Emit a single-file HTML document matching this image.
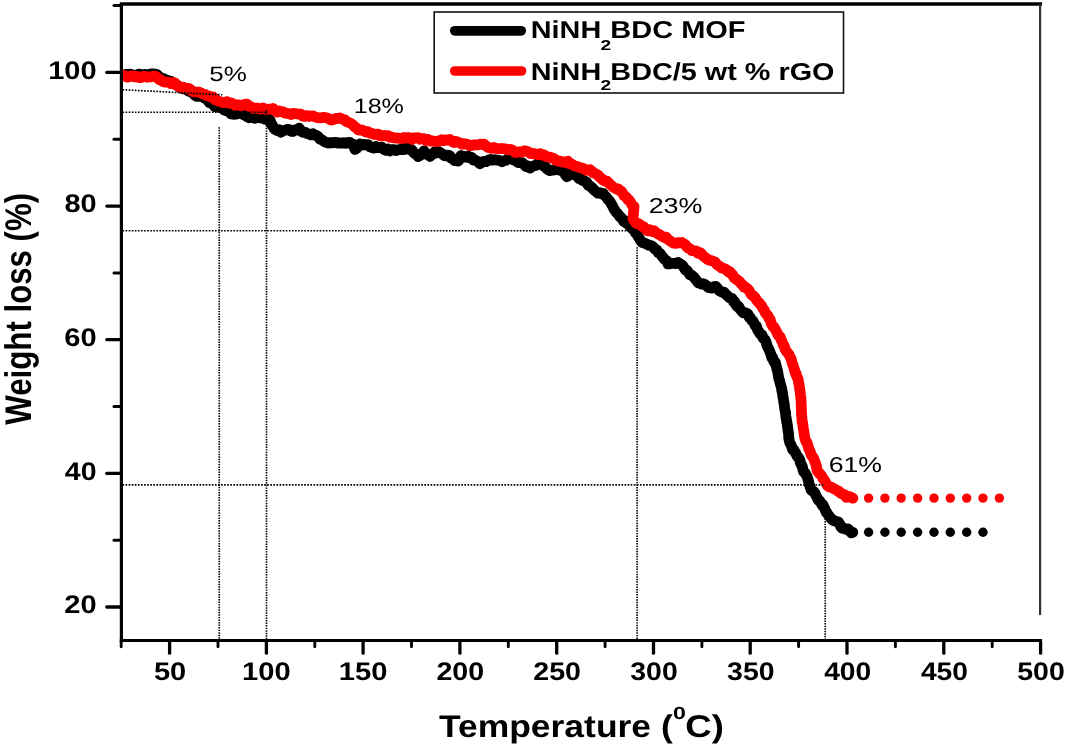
<!DOCTYPE html><html><head><meta charset="utf-8"><style>html,body{margin:0;padding:0;background:#fff}svg{display:block;will-change:transform}text{text-rendering:geometricPrecision}</style></head><body><svg width="1065" height="749" viewBox="0 0 1065 749">
<rect width="1065" height="749" fill="#fff"/>
<defs><clipPath id="cp"><rect x="121.4" y="4" width="920" height="636"/></clipPath></defs>
<g clip-path="url(#cp)" fill="none" stroke="#000" stroke-width="10.8" stroke-linejoin="round" stroke-linecap="round"><path id="kb" d="M122.0 75.5 L123.9 75.3 L125.7 74.4 L127.6 74.7 L129.4 74.1 L131.3 74.3 L133.1 76.1 L135.0 75.7 L137.0 74.8 L139.0 74.1 L141.0 74.6 L143.0 74.9 L145.0 74.3 L147.0 75.0 L149.0 74.6 L151.0 73.9 L153.0 73.8 L155.0 74.2 L157.0 74.5 L159.0 76.6 L161.0 78.3 L163.0 78.3 L165.0 79.5 L166.8 80.2 L168.5 80.8 L170.2 81.0 L172.0 82.3 L173.8 83.8 L175.5 84.5 L177.2 85.2 L179.0 86.9 L181.0 88.2 L183.0 88.8 L185.0 88.6 L187.0 90.0 L189.0 91.4 L191.0 90.8 L193.0 93.4 L195.0 95.3 L197.0 96.3 L199.0 96.4 L201.0 95.9 L202.7 95.6 L204.4 98.2 L206.1 98.5 L207.9 100.7 L209.6 102.7 L211.3 103.0 L213.0 104.6 L215.0 106.7 L217.0 107.1 L219.0 106.7 L220.7 107.2 L222.4 107.8 L224.1 110.0 L225.9 110.5 L227.6 109.8 L229.3 112.0 L231.0 113.9 L233.0 114.1 L235.0 114.3 L237.0 113.9 L239.0 112.3 L241.0 111.2 L243.0 114.5 L245.0 115.3 L247.0 116.7 L249.0 117.7 L251.0 116.7 L253.0 117.8 L255.0 118.3 L257.0 117.2 L259.0 117.5 L261.0 118.0 L263.0 118.2 L265.0 119.4 L267.0 118.7 L269.0 119.0 L270.2 120.4 L271.4 124.4 L272.6 125.5 L273.8 128.1 L275.0 129.5 L277.0 130.5 L279.0 129.8 L281.0 132.3 L283.0 130.8 L285.0 130.3 L287.0 129.4 L289.0 129.3 L291.0 131.3 L293.0 131.5 L295.0 129.8 L297.0 130.2 L299.0 128.1 L300.6 130.1 L302.2 132.0 L303.8 132.4 L305.4 132.5 L307.0 133.6 L309.0 134.1 L311.0 134.9 L313.0 133.8 L315.0 135.3 L316.7 135.6 L318.3 136.7 L320.0 139.2 L322.0 139.9 L324.0 141.3 L326.0 142.3 L328.0 143.1 L330.0 142.6 L332.0 142.9 L334.0 142.5 L336.0 142.4 L338.0 143.1 L340.0 142.9 L342.0 143.1 L344.0 142.7 L346.0 143.4 L348.0 142.5 L350.0 142.5 L351.2 144.0 L352.5 143.8 L353.8 146.5 L355.0 149.4 L356.7 148.4 L358.3 145.4 L360.0 143.9 L362.0 145.1 L364.0 144.4 L366.0 144.9 L368.0 144.6 L370.0 146.9 L372.0 147.5 L374.0 148.1 L376.0 146.4 L378.0 147.6 L380.0 147.4 L382.0 147.1 L384.0 149.5 L386.0 150.4 L388.0 149.0 L390.0 150.9 L392.0 149.7 L394.0 149.6 L396.0 150.5 L398.0 149.9 L400.0 149.3 L402.0 149.6 L404.0 149.6 L406.0 147.3 L407.5 147.2 L409.0 147.6 L410.5 150.0 L412.0 149.9 L413.5 152.5 L415.0 153.7 L416.5 154.3 L418.0 156.5 L420.0 155.4 L422.0 153.6 L424.0 150.9 L426.0 154.1 L428.0 154.7 L430.0 156.3 L432.0 154.6 L433.5 153.5 L435.0 151.5 L436.5 152.8 L438.0 151.4 L440.0 152.3 L442.0 153.7 L444.0 155.4 L446.0 155.9 L448.0 155.1 L449.7 155.7 L451.3 158.3 L453.0 159.0 L454.7 160.7 L456.3 160.7 L458.0 161.1 L459.0 160.3 L460.0 157.5 L461.0 155.5 L462.0 156.2 L464.0 156.4 L466.0 157.2 L468.0 156.0 L470.0 158.1 L471.7 157.3 L473.3 160.1 L475.0 160.2 L476.7 160.8 L478.3 162.1 L480.0 163.8 L482.0 162.0 L484.0 161.3 L486.0 161.7 L488.0 160.4 L490.0 159.5 L492.0 160.1 L494.0 159.7 L496.0 160.0 L498.0 160.1 L500.0 160.7 L502.0 161.7 L504.0 160.7 L506.0 160.3 L508.0 158.7 L510.0 158.3 L512.0 158.6 L514.0 160.2 L516.0 160.8 L518.0 162.7 L520.0 162.6 L522.0 162.6 L524.0 164.4 L526.0 166.6 L528.0 165.9 L530.0 168.1 L532.0 166.5 L534.0 165.8 L536.0 165.4 L538.0 163.2 L540.0 162.3 L541.6 164.0 L543.2 166.0 L544.8 165.9 L546.4 168.5 L548.0 169.7 L549.8 170.6 L551.5 170.1 L553.2 170.1 L555.0 169.5 L556.7 169.5 L558.3 169.1 L560.0 170.4 L561.4 170.4 L562.8 171.3 L564.2 172.2 L565.6 175.2 L567.0 176.6 L568.8 175.6 L570.5 174.2 L572.2 173.6 L574.0 173.1 L575.7 175.3 L577.3 176.3 L579.0 178.7 L580.7 178.7 L582.3 180.5 L584.0 180.9 L585.3 181.4 L586.7 182.2 L588.0 185.2 L589.3 185.3 L590.7 186.8 L592.0 187.6 L594.0 189.9 L596.0 191.6 L598.0 193.2 L600.0 192.7 L601.6 193.9 L603.2 193.4 L604.8 195.7 L606.4 197.1 L608.0 199.6 L609.2 200.5 L610.4 202.2 L611.6 204.5 L612.8 206.3 L614.0 209.1 L615.2 210.7 L616.4 212.5 L617.6 213.6 L618.8 215.1 L620.0 216.9 L621.2 217.5 L622.4 219.0 L623.6 221.4 L624.8 220.5 L626.0 222.8 L627.5 224.0 L629.0 224.1 L630.5 227.2 L632.0 228.5 L633.2 229.3 L634.4 230.9 L635.6 233.0 L636.8 233.5 L638.0 236.3 L639.2 237.9 L640.4 240.3 L641.6 241.9 L642.8 242.7 L644.0 242.9 L645.6 243.7 L647.2 244.3 L648.8 245.4 L650.4 245.4 L652.0 246.0 L653.6 247.5 L655.2 249.2 L656.8 249.9 L658.4 252.7 L660.0 253.3 L661.3 255.2 L662.7 257.0 L664.0 258.8 L665.3 260.0 L666.7 260.6 L668.0 263.9 L670.0 263.8 L672.0 263.3 L674.0 263.3 L676.0 263.6 L678.0 262.4 L680.0 263.9 L681.4 264.6 L682.9 265.9 L684.3 268.1 L685.7 270.3 L687.1 270.4 L688.6 272.8 L690.0 274.8 L691.7 275.3 L693.3 276.6 L695.0 278.6 L696.7 280.8 L698.3 282.7 L700.0 283.4 L701.7 284.2 L703.3 283.7 L705.0 284.6 L706.7 285.7 L708.3 287.6 L710.0 287.7 L712.0 288.1 L714.0 286.6 L716.0 286.5 L717.6 288.4 L719.2 290.7 L720.8 291.5 L722.4 292.2 L724.0 292.1 L726.0 294.5 L728.0 296.3 L730.0 298.2 L732.0 298.3 L733.3 301.6 L734.7 301.6 L736.0 305.0 L737.3 306.7 L738.7 306.5 L740.0 309.0 L741.6 311.1 L743.2 312.8 L744.8 312.6 L746.4 313.2 L748.0 314.0 L749.2 317.4 L750.4 317.6 L751.6 320.3 L752.8 320.8 L754.0 323.1 L755.2 325.5 L756.4 326.1 L757.6 330.0 L758.8 331.6 L760.0 333.7 L761.0 334.5 L762.0 334.7 L763.0 338.0 L764.0 338.9 L765.0 339.7 L766.0 341.7 L766.8 344.9 L767.7 347.0 L768.5 348.6 L769.3 350.2 L770.2 352.6 L771.0 354.7 L771.8 357.7 L772.7 357.7 L773.5 360.7 L774.3 362.3 L775.2 362.1 L776.0 365.5 L776.5 366.9 L777.0 369.3 L777.4 370.1 L777.8 372.4 L778.2 374.6 L778.6 377.9 L779.0 379.0 L779.5 380.4 L780.0 382.8 L780.6 384.8 L781.1 386.6 L781.6 388.3 L782.0 391.6 L782.4 392.0 L782.8 396.3 L783.2 397.7 L783.6 400.7 L783.9 402.9 L784.2 404.0 L784.4 406.1 L784.7 408.9 L785.0 410.2 L785.3 411.6 L785.6 413.3 L785.8 416.0 L786.1 418.2 L786.4 419.4 L786.7 421.9 L787.0 422.5 L787.4 426.0 L787.7 427.4 L788.0 430.1 L788.2 431.6 L788.4 432.6 L788.6 433.8 L788.8 438.5 L789.0 439.5 L789.8 442.7 L790.7 444.3 L791.5 446.0 L792.3 448.8 L793.2 450.4 L794.0 449.9 L794.8 451.9 L795.7 452.8 L796.5 455.1 L797.3 456.4 L798.2 457.1 L799.0 458.4 L799.8 460.0 L800.6 463.6 L801.4 464.7 L802.2 466.1 L803.0 469.9 L803.8 472.0 L804.7 472.7 L805.5 473.6 L806.3 475.3 L807.2 476.7 L808.0 479.5 L808.6 481.6 L809.2 484.5 L809.8 485.8 L810.4 487.8 L811.0 489.8 L812.2 490.8 L813.5 491.4 L814.8 492.8 L816.0 495.5 L817.2 497.8 L818.4 500.3 L819.6 500.8 L820.8 502.5 L822.0 505.1 L823.0 504.9 L824.0 507.3 L825.0 509.2 L826.0 512.1 L827.0 512.7 L828.0 514.8 L829.0 515.8 L830.0 517.2 L831.0 518.4 L833.0 520.4 L835.0 521.0 L837.0 521.9 L838.2 521.8 L839.5 523.5 L840.8 526.7 L842.0 528.3 L844.0 528.2 L846.0 529.4 L848.0 528.9 L849.6 530.7 L851.2 532.8 L852.8 532.3"/></g>
<g clip-path="url(#cp)" fill="none" stroke="#ff0000" stroke-width="10.8" stroke-linejoin="round" stroke-linecap="round"><path id="kr" d="M122.0 76.0 L123.9 75.5 L125.7 76.4 L127.6 77.2 L129.4 76.5 L131.3 76.1 L133.1 75.9 L135.0 76.9 L137.0 76.4 L139.0 77.6 L141.0 77.6 L143.0 76.4 L145.0 76.5 L147.0 77.3 L149.0 76.8 L151.0 76.9 L153.0 76.3 L155.0 76.1 L157.0 77.2 L159.0 79.5 L161.0 80.0 L163.0 81.6 L165.0 82.2 L167.0 82.2 L169.0 82.3 L171.0 83.6 L173.0 82.7 L175.0 82.9 L177.0 85.7 L179.0 86.7 L181.0 87.9 L183.0 87.1 L185.0 88.1 L187.0 88.5 L189.0 88.3 L191.0 90.3 L193.0 91.5 L195.0 91.8 L197.0 92.0 L199.0 92.2 L201.0 93.2 L203.0 93.9 L205.0 94.5 L207.0 95.9 L209.0 95.8 L211.0 97.2 L213.0 97.0 L215.0 99.7 L217.0 100.2 L219.0 101.3 L221.0 101.9 L223.0 102.6 L225.0 102.3 L227.0 101.6 L229.0 103.2 L231.0 102.9 L233.0 103.9 L235.0 105.2 L237.0 105.0 L239.0 104.9 L241.0 105.9 L243.0 105.0 L245.0 104.2 L247.0 104.2 L249.0 106.4 L251.0 106.8 L253.0 108.5 L255.0 108.2 L257.0 108.0 L259.0 108.7 L261.0 109.2 L263.0 108.0 L265.0 109.1 L267.0 109.3 L269.0 109.1 L271.0 109.2 L273.0 108.5 L275.0 110.4 L277.0 112.1 L279.0 110.9 L281.0 111.6 L283.0 111.9 L285.0 113.2 L287.0 113.3 L289.0 113.7 L291.0 114.5 L293.0 113.3 L295.0 113.6 L297.0 113.9 L299.0 114.1 L301.0 114.1 L303.0 116.2 L305.0 116.4 L307.0 115.6 L309.0 116.3 L311.0 116.0 L313.0 116.0 L315.0 116.8 L317.5 117.6 L320.0 117.8 L322.0 117.6 L324.0 117.4 L326.0 117.8 L328.0 118.2 L330.0 119.7 L332.0 120.1 L334.0 119.3 L336.0 118.5 L338.0 118.5 L340.0 118.0 L341.7 118.9 L343.3 119.6 L345.0 119.9 L346.7 121.7 L348.3 122.4 L350.0 123.1 L351.7 124.0 L353.3 125.2 L355.0 127.1 L356.7 128.1 L358.3 130.0 L360.0 130.2 L362.0 130.1 L364.0 130.9 L366.0 132.0 L368.0 131.7 L370.0 133.1 L372.0 133.3 L374.0 134.3 L376.0 134.5 L378.0 134.1 L380.0 135.6 L382.0 135.9 L384.0 135.3 L386.0 136.0 L388.0 135.7 L390.0 137.3 L392.0 137.2 L394.0 137.8 L396.0 138.0 L398.0 138.1 L400.0 138.6 L402.0 138.3 L404.0 137.5 L406.0 138.3 L408.0 137.5 L410.0 138.0 L412.0 139.4 L414.0 137.9 L416.0 137.8 L418.0 137.7 L420.0 139.3 L422.0 138.5 L424.0 138.7 L426.0 140.5 L428.0 139.4 L430.0 141.0 L432.0 140.9 L434.0 141.3 L436.0 141.7 L438.0 140.9 L440.0 141.1 L442.0 139.6 L444.0 140.6 L446.0 139.9 L448.0 140.0 L450.0 139.5 L452.0 141.5 L454.0 142.6 L456.0 141.4 L458.0 142.3 L460.0 143.1 L462.0 144.2 L464.0 143.7 L466.0 144.1 L468.0 144.6 L470.0 145.6 L472.0 145.5 L474.0 144.8 L476.0 144.8 L478.0 144.8 L480.0 144.2 L482.0 144.5 L484.0 144.1 L486.0 145.8 L488.0 147.6 L490.0 147.6 L492.0 148.3 L494.0 147.4 L496.0 148.5 L498.0 148.7 L500.0 148.7 L502.0 148.5 L504.0 148.7 L506.0 149.1 L508.0 149.8 L510.0 149.4 L512.0 150.0 L514.0 151.9 L516.0 152.4 L518.0 151.9 L520.0 152.0 L522.0 152.2 L524.0 151.0 L526.0 150.9 L528.0 151.7 L530.0 153.3 L532.0 153.6 L534.0 153.5 L536.0 154.3 L538.0 154.7 L540.0 153.6 L542.0 154.9 L544.0 154.9 L546.0 156.5 L548.0 156.9 L550.0 157.1 L552.0 158.0 L554.0 158.6 L556.0 160.4 L558.0 160.9 L560.0 161.2 L562.0 162.1 L564.0 161.9 L566.0 162.7 L568.0 161.4 L570.0 163.9 L572.0 164.3 L574.0 165.8 L576.0 166.0 L578.0 167.1 L580.0 167.6 L582.0 168.0 L584.0 168.8 L586.0 170.1 L588.0 170.4 L590.0 169.7 L591.7 171.0 L593.3 172.9 L595.0 173.4 L596.7 174.4 L598.3 175.4 L600.0 177.4 L601.7 178.7 L603.3 180.2 L605.0 181.0 L606.7 180.9 L608.3 182.5 L610.0 184.3 L611.7 185.7 L613.3 187.3 L615.0 188.2 L616.7 189.0 L618.3 188.8 L620.0 190.9 L621.3 191.2 L622.7 193.3 L624.0 195.7 L625.3 196.5 L626.7 197.6 L628.0 200.0 L629.2 200.2 L630.4 202.0 L631.6 204.2 L632.8 206.1 L634.0 206.6 L633.8 209.3 L633.6 211.7 L633.4 213.9 L633.2 215.6 L633.0 218.4 L634.0 220.7 L635.0 221.4 L636.0 223.3 L638.0 223.5 L640.0 224.7 L642.0 226.3 L644.0 226.9 L646.0 229.6 L648.0 230.9 L650.0 229.7 L652.0 231.5 L654.0 230.7 L656.0 232.6 L657.7 233.8 L659.3 234.3 L661.0 235.8 L662.7 236.5 L664.3 237.6 L666.0 237.1 L667.6 239.0 L669.2 240.4 L670.8 241.3 L672.4 242.5 L674.0 243.2 L676.0 243.4 L678.0 242.7 L680.0 242.9 L682.0 242.5 L683.6 243.7 L685.2 244.5 L686.8 246.7 L688.4 248.1 L690.0 248.6 L692.0 250.7 L694.0 251.0 L696.0 250.9 L698.0 253.2 L700.0 252.6 L701.7 254.1 L703.3 256.2 L705.0 257.4 L706.7 258.7 L708.3 259.8 L710.0 260.3 L711.7 260.7 L713.3 261.4 L715.0 262.1 L716.7 264.2 L718.3 265.5 L720.0 266.4 L721.7 268.1 L723.3 268.2 L725.0 268.9 L726.7 269.9 L728.3 272.0 L730.0 271.7 L731.4 273.9 L732.9 275.2 L734.3 277.9 L735.7 278.9 L737.1 279.8 L738.6 280.9 L740.0 282.1 L741.3 284.1 L742.7 284.8 L744.0 287.2 L745.3 287.0 L746.7 288.4 L748.0 289.2 L749.3 290.9 L750.7 293.7 L752.0 295.2 L753.3 295.7 L754.7 297.2 L756.0 299.0 L757.1 300.8 L758.3 302.1 L759.4 303.1 L760.6 304.8 L761.7 306.0 L762.9 308.5 L764.0 309.7 L765.0 312.1 L766.0 313.9 L767.0 314.6 L768.0 316.0 L769.0 318.3 L770.0 319.1 L771.0 322.7 L772.0 325.0 L773.0 326.6 L774.0 327.1 L775.0 328.9 L776.0 330.7 L777.0 332.6 L778.0 335.0 L779.0 335.9 L780.0 336.6 L780.9 339.2 L781.7 340.6 L782.6 342.9 L783.4 345.3 L784.3 345.9 L785.1 349.1 L786.0 350.8 L786.8 351.7 L787.7 352.8 L788.5 353.9 L789.3 355.1 L790.2 357.4 L791.0 358.2 L791.8 361.5 L792.6 364.2 L793.4 366.3 L794.2 368.7 L795.0 371.6 L795.6 373.7 L796.2 373.8 L796.8 376.5 L797.4 377.7 L798.0 378.8 L798.4 381.5 L798.8 383.4 L799.2 385.2 L799.6 388.2 L800.0 391.0 L800.2 391.7 L800.4 394.5 L800.6 396.0 L800.8 397.0 L801.0 400.3 L801.1 401.9 L801.2 404.4 L801.2 406.0 L801.3 408.0 L801.4 409.3 L801.5 412.2 L801.6 414.5 L801.8 416.5 L801.9 417.9 L802.0 420.7 L802.3 422.0 L802.6 423.1 L802.8 424.7 L803.1 426.9 L803.4 429.1 L803.8 431.1 L804.2 434.0 L804.6 436.7 L805.0 438.7 L805.4 439.9 L806.2 441.8 L807.0 442.6 L807.8 445.3 L808.6 448.2 L809.4 450.0 L810.2 451.4 L811.0 454.4 L811.8 455.9 L812.6 456.6 L813.4 458.0 L814.2 459.6 L814.8 461.7 L815.4 463.0 L816.0 464.5 L816.6 467.3 L817.2 470.8 L818.2 471.6 L819.2 473.4 L820.2 474.1 L821.2 475.3 L822.2 476.8 L823.2 478.8 L824.2 479.9 L825.2 481.4 L826.2 483.4 L827.2 485.3 L829.0 486.8 L830.8 487.0 L832.5 487.8 L834.3 488.9 L835.8 489.6 L837.3 490.8 L838.8 491.0 L840.3 493.0 L842.3 494.1 L844.3 494.5 L846.3 497.2 L848.5 496.3 L850.6 497.0 L852.8 498.2"/></g>
<circle cx="868.6" cy="498.1" r="4.7" fill="#ff0000"/>
<circle cx="884.9" cy="498.1" r="4.7" fill="#ff0000"/>
<circle cx="901.2" cy="498.1" r="4.7" fill="#ff0000"/>
<circle cx="917.6" cy="498.1" r="4.7" fill="#ff0000"/>
<circle cx="934.0" cy="498.1" r="4.7" fill="#ff0000"/>
<circle cx="950.3" cy="498.1" r="4.7" fill="#ff0000"/>
<circle cx="966.7" cy="498.1" r="4.7" fill="#ff0000"/>
<circle cx="983.0" cy="498.1" r="4.7" fill="#ff0000"/>
<circle cx="999.4" cy="498.1" r="4.7" fill="#ff0000"/>
<circle cx="868.6" cy="532.2" r="4.7" fill="#000"/>
<circle cx="884.9" cy="532.2" r="4.7" fill="#000"/>
<circle cx="901.2" cy="532.2" r="4.7" fill="#000"/>
<circle cx="917.6" cy="532.2" r="4.7" fill="#000"/>
<circle cx="934.0" cy="532.2" r="4.7" fill="#000"/>
<circle cx="950.3" cy="532.2" r="4.7" fill="#000"/>
<circle cx="966.7" cy="532.2" r="4.7" fill="#000"/>
<circle cx="983.0" cy="532.2" r="4.7" fill="#000"/>
<g stroke="#000" stroke-width="1.65" fill="none">
<g stroke-dasharray="1.65 1.43">
<path d="M122.5 89.7 L222.3 94.8"/>
<path d="M122.5 112.2 H266.8"/>
<path d="M122.5 230.7 H633"/>
<path d="M122.5 484.8 H823.5"/>
</g><g stroke-dasharray="1.45 1.1">
<path d="M219.25 127.3 V639"/>
<path d="M266.5 110 V639"/>
<path d="M637.1 247.3 V639"/>
<path d="M825.2 516 V639"/>
</g></g>
<g stroke="#000" fill="none">
<path d="M121.4 4 V642" stroke-width="3.2"/>
<path d="M119.8 4 H1042" stroke-width="3.7" stroke-linecap="butt"/>
<path d="M119.8 640.5 H1042" stroke-width="3.2"/>
<path d="M1040.1 4 V615" stroke="#333" stroke-width="2.2"/>
<path d="M106.8 607.0 H121" stroke-width="3.3" stroke-linecap="round"/>
<path d="M114 540.2 H121" stroke-width="3" stroke-linecap="round"/>
<path d="M106.8 473.4 H121" stroke-width="3.3" stroke-linecap="round"/>
<path d="M114 406.5 H121" stroke-width="3" stroke-linecap="round"/>
<path d="M106.8 339.7 H121" stroke-width="3.3" stroke-linecap="round"/>
<path d="M114 272.9 H121" stroke-width="3" stroke-linecap="round"/>
<path d="M106.8 206.1 H121" stroke-width="3.3" stroke-linecap="round"/>
<path d="M114 139.2 H121" stroke-width="3" stroke-linecap="round"/>
<path d="M106.8 72.4 H121" stroke-width="3.3" stroke-linecap="round"/>
<path d="M114 5.6 H121" stroke-width="3" stroke-linecap="round"/>
<path d="M121.2 641.5 V646.8" stroke-width="2.9" stroke-linecap="round"/>
<path d="M169.6 641.5 V653.2" stroke-width="3.3" stroke-linecap="round"/>
<path d="M218.0 641.5 V646.8" stroke-width="2.9" stroke-linecap="round"/>
<path d="M266.4 641.5 V653.2" stroke-width="3.3" stroke-linecap="round"/>
<path d="M314.8 641.5 V646.8" stroke-width="2.9" stroke-linecap="round"/>
<path d="M363.1 641.5 V653.2" stroke-width="3.3" stroke-linecap="round"/>
<path d="M411.5 641.5 V646.8" stroke-width="2.9" stroke-linecap="round"/>
<path d="M459.9 641.5 V653.2" stroke-width="3.3" stroke-linecap="round"/>
<path d="M508.3 641.5 V646.8" stroke-width="2.9" stroke-linecap="round"/>
<path d="M556.7 641.5 V653.2" stroke-width="3.3" stroke-linecap="round"/>
<path d="M605.1 641.5 V646.8" stroke-width="2.9" stroke-linecap="round"/>
<path d="M653.5 641.5 V653.2" stroke-width="3.3" stroke-linecap="round"/>
<path d="M701.9 641.5 V646.8" stroke-width="2.9" stroke-linecap="round"/>
<path d="M750.2 641.5 V653.2" stroke-width="3.3" stroke-linecap="round"/>
<path d="M798.6 641.5 V646.8" stroke-width="2.9" stroke-linecap="round"/>
<path d="M847.0 641.5 V653.2" stroke-width="3.3" stroke-linecap="round"/>
<path d="M895.4 641.5 V646.8" stroke-width="2.9" stroke-linecap="round"/>
<path d="M943.8 641.5 V653.2" stroke-width="3.3" stroke-linecap="round"/>
<path d="M992.2 641.5 V646.8" stroke-width="2.9" stroke-linecap="round"/>
<path d="M1040.6 641.5 V653.2" stroke-width="3.3" stroke-linecap="round"/>
</g>
<rect x="434.2" y="12" width="409.3" height="81" fill="#fff" stroke="#111" stroke-width="1.6"/>
<path d="M454.8 30.8 H521.2" stroke="#000" stroke-width="9.7" stroke-linecap="round"/>
<path d="M454.8 71 H521.5" stroke="#ff0000" stroke-width="9.7" stroke-linecap="round"/>
<text transform="translate(48.16 78.60) scale(1.1432 1)" font-family="Liberation Sans, sans-serif" font-weight="bold" font-size="25.4">100</text>
<text transform="translate(64.38 212.26) scale(1.1395 1)" font-family="Liberation Sans, sans-serif" font-weight="bold" font-size="25.4">80</text>
<text transform="translate(64.23 345.92) scale(1.1450 1)" font-family="Liberation Sans, sans-serif" font-weight="bold" font-size="25.4">60</text>
<text transform="translate(64.82 479.58) scale(1.1233 1)" font-family="Liberation Sans, sans-serif" font-weight="bold" font-size="25.4">40</text>
<text transform="translate(64.23 613.24) scale(1.1450 1)" font-family="Liberation Sans, sans-serif" font-weight="bold" font-size="25.4">20</text>
<text transform="translate(153.92 680.10) scale(1.1432 1)" font-family="Liberation Sans, sans-serif" font-weight="bold" font-size="25.4">50</text>
<text transform="translate(242.02 680.10) scale(1.1483 1)" font-family="Liberation Sans, sans-serif" font-weight="bold" font-size="25.4">100</text>
<text transform="translate(338.79 680.10) scale(1.1483 1)" font-family="Liberation Sans, sans-serif" font-weight="bold" font-size="25.4">150</text>
<text transform="translate(436.46 680.10) scale(1.1266 1)" font-family="Liberation Sans, sans-serif" font-weight="bold" font-size="25.4">200</text>
<text transform="translate(533.24 680.10) scale(1.1266 1)" font-family="Liberation Sans, sans-serif" font-weight="bold" font-size="25.4">250</text>
<text transform="translate(630.30 680.10) scale(1.1196 1)" font-family="Liberation Sans, sans-serif" font-weight="bold" font-size="25.4">300</text>
<text transform="translate(727.08 680.10) scale(1.1196 1)" font-family="Liberation Sans, sans-serif" font-weight="bold" font-size="25.4">350</text>
<text transform="translate(824.14 680.10) scale(1.1126 1)" font-family="Liberation Sans, sans-serif" font-weight="bold" font-size="25.4">400</text>
<text transform="translate(920.91 680.10) scale(1.1126 1)" font-family="Liberation Sans, sans-serif" font-weight="bold" font-size="25.4">450</text>
<text transform="translate(1017.26 680.10) scale(1.1231 1)" font-family="Liberation Sans, sans-serif" font-weight="bold" font-size="25.4">500</text>
<text transform="translate(209.26 81.20) scale(1.2493 1)" font-family="Liberation Sans, sans-serif" font-weight="normal" font-size="20.8">5%</text>
<text transform="translate(353.72 112.80) scale(1.2057 1)" font-family="Liberation Sans, sans-serif" font-weight="normal" font-size="20.8">18%</text>
<text transform="translate(648.66 213.30) scale(1.2484 1)" font-family="Liberation Sans, sans-serif" font-weight="normal" font-size="21.5">23%</text>
<text transform="translate(828.67 471.80) scale(1.2387 1)" font-family="Liberation Sans, sans-serif" font-weight="normal" font-size="21.5">61%</text>
<text transform="translate(530.83 38.40) scale(1.1750 1)" font-family="Liberation Sans, sans-serif" font-weight="bold" font-size="24.5">NiNH</text>
<text transform="translate(600.53 49.90) scale(1.3498 1)" font-family="Liberation Sans, sans-serif" font-weight="bold" font-size="14.2">2</text>
<text transform="translate(610.32 38.40) scale(1.1829 1)" font-family="Liberation Sans, sans-serif" font-weight="bold" font-size="24.5">BDC MOF</text>
<text transform="translate(530.83 79.80) scale(1.1750 1)" font-family="Liberation Sans, sans-serif" font-weight="bold" font-size="24.5">NiNH</text>
<text transform="translate(600.53 90.10) scale(1.3498 1)" font-family="Liberation Sans, sans-serif" font-weight="bold" font-size="14.2">2</text>
<text transform="translate(610.33 79.80) scale(1.1761 1)" font-family="Liberation Sans, sans-serif" font-weight="bold" font-size="24.5">BDC/5 wt % rGO</text>
<text transform="translate(438.95 736.80) scale(1.1292 1)" font-family="Liberation Sans, sans-serif" font-weight="bold" font-size="31.4">Temperature (</text>
<text transform="translate(672.97 718.80) scale(1.3233 1)" font-family="Liberation Sans, sans-serif" font-weight="bold" font-size="17.5">0</text>
<text transform="translate(685.24 736.80) scale(1.1650 1)" font-family="Liberation Sans, sans-serif" font-weight="bold" font-size="31.4">C)</text>
<text transform="translate(31.3 424.7) rotate(-90) scale(1.0011 1.19)" font-family="Liberation Sans, sans-serif" font-weight="bold" font-size="31.2">Weight loss (%)</text>
</svg></body></html>
